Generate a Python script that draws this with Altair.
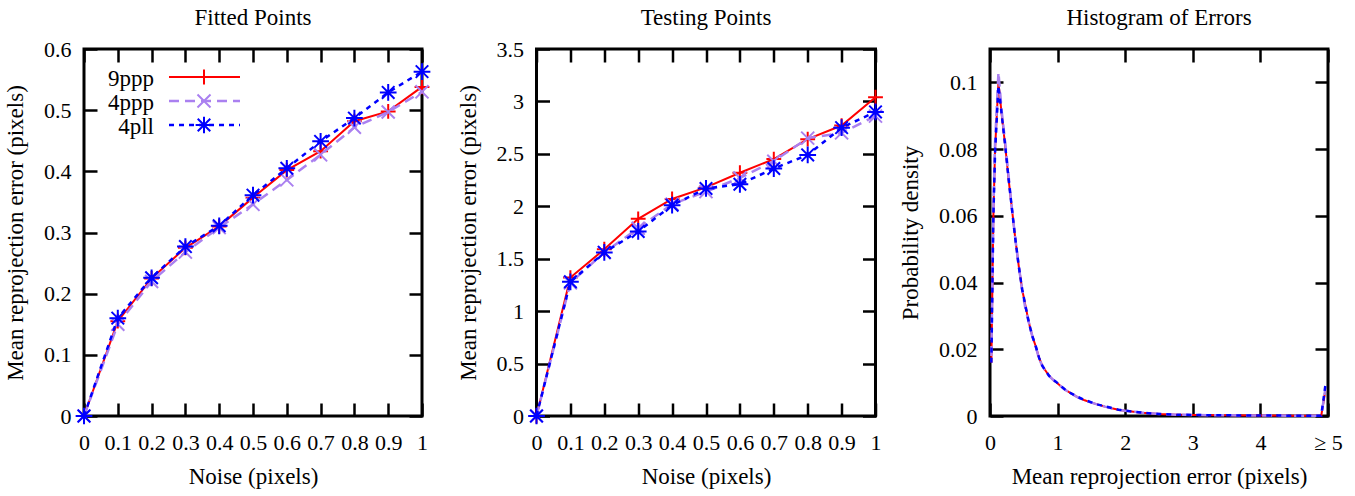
import altair as alt
import pandas as pd

FONT = "Liberation Serif"

# ---------------- data ----------------
series_names = ["9ppp", "4ppp", "4pll"]
series_colors = ["#ff0000", "#aa80f0", "#0000ff"]

noise = [0, 0.1, 0.2, 0.3, 0.4, 0.5, 0.6, 0.7, 0.8, 0.9, 1.0]

fit_9ppp = [0, 0.155, 0.225, 0.275, 0.310, 0.357, 0.402, 0.433, 0.482, 0.498, 0.538]
fit_4ppp = [0, 0.150, 0.220, 0.268, 0.308, 0.346, 0.386, 0.427, 0.472, 0.497, 0.530]
fit_4pll = [0, 0.160, 0.226, 0.277, 0.311, 0.361, 0.405, 0.449, 0.487, 0.529, 0.563]

test_9ppp = [0, 1.32, 1.59, 1.88, 2.07, 2.18, 2.32, 2.45, 2.64, 2.77, 3.04]
test_4ppp = [0, 1.27, 1.56, 1.79, 2.02, 2.14, 2.27, 2.43, 2.65, 2.70, 2.86]
test_4pll = [0, 1.28, 1.56, 1.76, 2.01, 2.17, 2.21, 2.36, 2.49, 2.75, 2.90]

hist_x = [0.02, 0.05, 0.075, 0.125, 0.175, 0.225, 0.275, 0.325, 0.375, 0.425,
          0.475, 0.525, 0.575, 0.625, 0.675, 0.725, 0.775, 0.825, 0.875, 0.925,
          0.975, 1.1, 1.2, 1.3, 1.4, 1.5, 1.6, 1.7, 1.8, 1.9,
          2.0, 2.25, 2.5, 2.75, 3.0, 3.5, 4.0, 4.5, 4.9, 4.96]
hist_9ppp = [0.016, 0.060, 0.080, 0.100, 0.090, 0.081, 0.071, 0.062, 0.053, 0.045,
             0.038, 0.033, 0.028, 0.024, 0.021, 0.0175, 0.015, 0.0135, 0.012, 0.011,
             0.0102, 0.008, 0.0068, 0.0056, 0.0047, 0.004, 0.0034, 0.0028, 0.0023, 0.0019,
             0.0016, 0.001, 0.0006, 0.0004, 0.0003, 0.0002, 0.00015, 0.0001, 0.0001, 0.0075]
hist_4ppp = [0.018, 0.062, 0.082, 0.103, 0.091, 0.082, 0.072, 0.062, 0.053, 0.045,
             0.038, 0.032, 0.028, 0.024, 0.021, 0.0172, 0.015, 0.0133, 0.012, 0.011,
             0.0101, 0.008, 0.0067, 0.0056, 0.0047, 0.0040, 0.0034, 0.0028, 0.0023, 0.0019,
             0.0016, 0.001, 0.0006, 0.0004, 0.0003, 0.0002, 0.00015, 0.0001, 0.0001, 0.008]
hist_4pll = [0.016, 0.060, 0.079, 0.099, 0.090, 0.081, 0.071, 0.062, 0.053, 0.045,
             0.038, 0.033, 0.028, 0.024, 0.021, 0.0175, 0.015, 0.0135, 0.012, 0.011,
             0.0103, 0.0081, 0.0068, 0.0057, 0.0048, 0.0041, 0.0034, 0.0029, 0.0024, 0.0019,
             0.0016, 0.001, 0.0006, 0.0004, 0.0003, 0.0002, 0.00015, 0.0001, 0.0001, 0.009]

fit_xticks = [0, 0.1, 0.2, 0.3, 0.4, 0.5, 0.6, 0.7, 0.8, 0.9, 1.0]
fit_yticks = [0, 0.1, 0.2, 0.3, 0.4, 0.5, 0.6]
test_yticks = [0, 0.5, 1.0, 1.5, 2.0, 2.5, 3.0, 3.5]
hist_xticks = [0, 1, 2, 3, 4, 5]
hist_yticks = [0, 0.02, 0.04, 0.06, 0.08, 0.1]

# ---------------- styling ----------------
DASHES = [None, [10, 6], [5, 5]]
WIDTHS = [2, 2.5, 2.5]
SHAPES = [
    "M-1,0L1,0M0,-1L0,1",
    "M-1,-1L1,1M-1,1L1,-1",
    "M-1,0L1,0M0,-1L0,1M-0.75,-0.75L0.75,0.75M-0.75,0.75L0.75,-0.75",
]
SIZES = [220, 170, 280]
TICK = 13
LABEL_SIZE = 22
TITLE_SIZE = 23
PLOT_H = 367


def main_axis(orient, values, title, label_expr=None, label_padding=16, title_padding=12):
    kw = dict(
        orient=orient, values=values, format="~g", offset=-TICK, tickSize=TICK,
        tickWidth=2.5, tickColor="black", domain=False, grid=False,
        labelPadding=label_padding, labelFont=FONT, labelFontSize=LABEL_SIZE,
        labelColor="black", labelFlush=False, labelOverlap=False, labelBound=False,
        title=title, titleFont=FONT, titleFontSize=TITLE_SIZE, titleFontWeight="normal",
        titleColor="black", titlePadding=title_padding,
    )
    if label_expr is not None:
        kw["labelExpr"] = label_expr
    return alt.Axis(**kw)


def mirror_axis(orient, values):
    return alt.Axis(orient=orient, values=values, offset=-TICK, tickSize=TICK,
                    tickWidth=2.5, tickColor="black", domain=False, grid=False,
                    labels=False, title=None)


def make_panel(xvals, yseries, xdom, ydom, xticks, yticks, title, xtitle, ytitle,
               width, title_offset, points=True, legend=False, xlabel_expr=None):
    xs = alt.Scale(domain=xdom, nice=False, zero=False)
    ys = alt.Scale(domain=ydom, nice=False, zero=False)
    layers = []
    for i, (name, vals) in enumerate(zip(series_names, yseries)):
        df = pd.DataFrame({"x": xvals, "y": vals, "series": name})
        if i == 0:
            xa = main_axis("bottom", xticks, xtitle, xlabel_expr)
            ya = main_axis("left", yticks, ytitle, label_padding=13, title_padding=16)
        elif i == 1:
            xa = mirror_axis("top", xticks)
            ya = mirror_axis("right", yticks)
        else:
            xa = None
            ya = None
        line_kw = dict(color=series_colors[i], strokeWidth=WIDTHS[i])
        if DASHES[i] is not None:
            line_kw["strokeDash"] = DASHES[i]
        line = alt.Chart(df).mark_line(**line_kw).encode(
            x=alt.X("x:Q", scale=xs, axis=xa),
            y=alt.Y("y:Q", scale=ys, axis=ya),
        )
        layers.append(line)
        if points:
            pts = alt.Chart(df).mark_point(
                shape=SHAPES[i], size=SIZES[i], filled=False, color=series_colors[i],
                strokeWidth=2, opacity=1,
            ).encode(
                x=alt.X("x:Q", scale=xs, axis=None),
                y=alt.Y("y:Q", scale=ys, axis=None),
            )
            layers.append(pts)
    if legend:
        for i, name in enumerate(series_names):
            ly = 28 + 24 * i
            ldf = pd.DataFrame({"series": [name]})
            txt = alt.Chart(ldf).mark_text(
                align="right", baseline="middle", font=FONT, fontSize=TITLE_SIZE, color="black",
                dy=2,
            ).encode(text="series:N", x=alt.value(70), y=alt.value(ly))
            rk = dict(color=series_colors[i], strokeWidth=WIDTHS[i])
            if DASHES[i] is not None:
                rk["strokeDash"] = DASHES[i]
            rl = alt.Chart(ldf).mark_rule(**rk).encode(
                x=alt.value(85), x2=alt.value(156), y=alt.value(ly))
            lp = alt.Chart(ldf).mark_point(
                shape=SHAPES[i], size=SIZES[i], filled=False, color=series_colors[i],
                strokeWidth=2, opacity=1,
            ).encode(x=alt.value(120), y=alt.value(ly))
            layers += [rl, lp, txt]
    return alt.layer(*layers).resolve_axis(x="independent", y="independent").properties(
        width=width, height=PLOT_H,
        title=alt.TitleParams(title, font=FONT, fontSize=TITLE_SIZE, fontWeight="normal",
                              color="black", anchor="middle", offset=title_offset),
    )


p1 = make_panel(noise, [fit_9ppp, fit_4ppp, fit_4pll], [0, 1], [0, 0.6],
                fit_xticks, fit_yticks, "Fitted Points", "Noise (pixels)",
                "Mean reprojection error (pixels)", 338, 8, points=True, legend=True)
p2 = make_panel(noise, [test_9ppp, test_4ppp, test_4pll], [0, 1], [0, 3.5],
                fit_xticks, test_yticks, "Testing Points", "Noise (pixels)",
                "Mean reprojection error (pixels)", 339, 8, points=True)
p3 = make_panel(hist_x, [hist_9ppp, hist_4ppp, hist_4pll], [0, 5], [0, 0.11],
                hist_xticks, hist_yticks, "Histogram of Errors",
                "Mean reprojection error (pixels)", "Probability density", 338, 18,
                points=False, xlabel_expr="datum.value >= 5 ? '≥ 5' : datum.label")

chart = alt.hconcat(p1, p2, p3, spacing=114.5, bounds="flush").properties(
    padding={"left": 3, "top": 5, "right": 5, "bottom": 5},
    background="white",
).configure_view(stroke="black", strokeWidth=3)

chart.save("out.html", embed_options={"renderer": "svg", "actions": False})
